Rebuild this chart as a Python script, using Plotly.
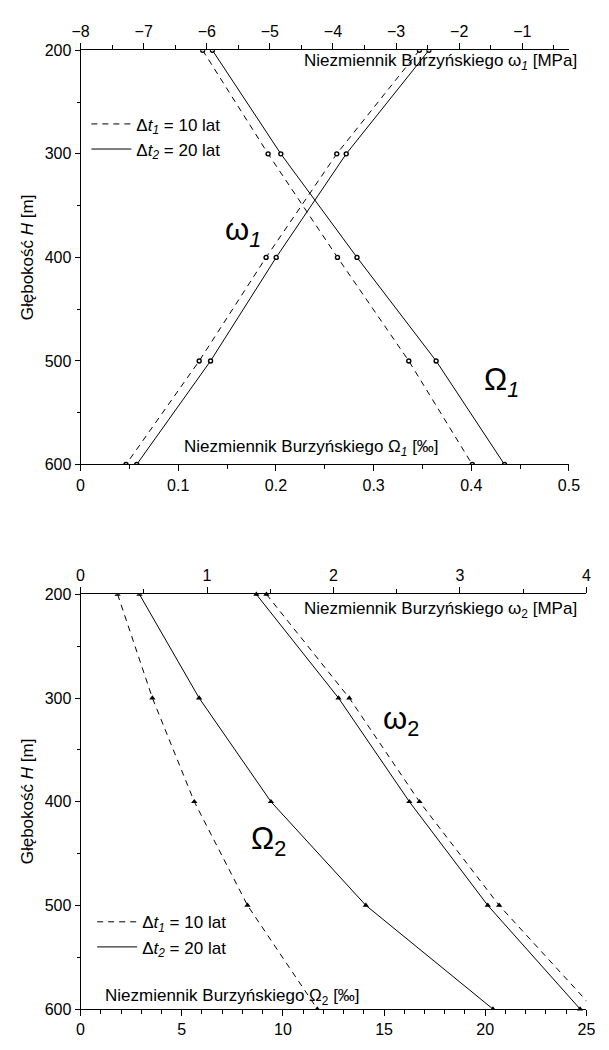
import plotly.graph_objects as go

# ---------------- data ----------------
depth = [200, 300, 400, 500, 600]

# top chart: omega1 [MPa] (top axis), Omega1 [permille] (bottom axis)
omega1_dt10 = [-2.63, -3.94, -5.06, -6.12, -7.28]
omega1_dt20 = [-2.48, -3.79, -4.90, -5.94, -7.11]
Omega1_dt10 = [0.125, 0.192, 0.263, 0.336, 0.401]
Omega1_dt20 = [0.135, 0.205, 0.283, 0.364, 0.434]

# bottom chart: omega2 [MPa] (top axis), Omega2 [permille] (bottom axis)
omega2_dt10 = [1.47, 2.125, 2.68, 3.31, 4.06]
omega2_dt20 = [1.39, 2.04, 2.60, 3.22, 3.95]
Omega2_dt10 = [1.83, 3.55, 5.62, 8.25, 11.70]
Omega2_dt20 = [2.91, 5.86, 9.41, 14.10, 20.38]

depth_ticks = [200, 300, 400, 500, 600]
legend_labels = ["Δ<i>t</i><sub><i>1</i></sub> = 10 lat", "Δ<i>t</i><sub><i>2</i></sub> = 20 lat"]

# ---------------- layout helpers ----------------
W, H = 609, 1050
FONT = "Arial, Liberation Sans, sans-serif"


def fx(p):
    return p / W


def fy(p):
    return 1 - p / H


DASH = "6px,5px"
LW = 1

fig = go.Figure()

circle = dict(symbol="circle", size=4, color="white", line=dict(color="black", width=1.4))
tri = dict(symbol="triangle-up", size=5.5, color="black", line=dict(width=0))

# top chart
fig.add_trace(go.Scatter(x=omega1_dt10, y=depth, xaxis="x2", yaxis="y", mode="lines+markers",
                         line=dict(color="black", width=LW, dash=DASH), marker=circle, showlegend=False))
fig.add_trace(go.Scatter(x=omega1_dt20, y=depth, xaxis="x2", yaxis="y", mode="lines+markers",
                         line=dict(color="black", width=LW), marker=circle, showlegend=False))
fig.add_trace(go.Scatter(x=Omega1_dt10, y=depth, xaxis="x", yaxis="y", mode="lines+markers",
                         line=dict(color="black", width=LW, dash=DASH), marker=circle, showlegend=False))
fig.add_trace(go.Scatter(x=Omega1_dt20, y=depth, xaxis="x", yaxis="y", mode="lines+markers",
                         line=dict(color="black", width=LW), marker=circle, showlegend=False))

# bottom chart
fig.add_trace(go.Scatter(x=Omega2_dt10, y=depth, xaxis="x3", yaxis="y2", mode="lines+markers",
                         line=dict(color="black", width=LW, dash=DASH), marker=tri, showlegend=False))
fig.add_trace(go.Scatter(x=Omega2_dt20, y=depth, xaxis="x3", yaxis="y2", mode="lines+markers",
                         line=dict(color="black", width=LW), marker=tri, showlegend=False))
fig.add_trace(go.Scatter(x=omega2_dt10, y=depth, xaxis="x4", yaxis="y2", mode="lines+markers",
                         line=dict(color="black", width=LW, dash=DASH), marker=tri, showlegend=False,
                         cliponaxis=False))
fig.add_trace(go.Scatter(x=omega2_dt20, y=depth, xaxis="x4", yaxis="y2", mode="lines+markers",
                         line=dict(color="black", width=LW), marker=tri, showlegend=False,
                         cliponaxis=False))

# legend entries
for lg, xa, ya in (("legend", "x", "y"), ("legend2", "x3", "y2")):
    fig.add_trace(go.Scatter(x=[None], y=[None], xaxis=xa, yaxis=ya, mode="lines", name=legend_labels[0],
                             line=dict(color="black", width=LW, dash=DASH), legend=lg))
    fig.add_trace(go.Scatter(x=[None], y=[None], xaxis=xa, yaxis=ya, mode="lines", name=legend_labels[1],
                             line=dict(color="black", width=LW), legend=lg))

tickfont = dict(family=FONT, size=16, color="black")
common = dict(showline=True, linecolor="black", linewidth=1, ticks="outside", tickcolor="black",
              tickwidth=1, showgrid=False, zeroline=False, tickfont=tickfont)

top_dom_x = [fx(74), fx(579)]
bot_dom_x = [fx(74), fx(597)]
top_dom_y = [fy(464), fy(43)]
bot_dom_y = [fy(1017.5), fy(596)]

fig.update_layout(
    width=W, height=H,
    margin=dict(l=0, r=0, t=0, b=0),
    paper_bgcolor="white", plot_bgcolor="white",
    font=dict(family=FONT, size=16, color="black"),
    xaxis=dict(domain=top_dom_x, anchor="y", range=[0, 0.5], tickmode="linear", tick0=0, dtick=0.1,
               ticklen=6, minor=dict(dtick=0.05, ticklen=4, ticks="outside", tickcolor="black"),
               **common),
    xaxis2=dict(domain=top_dom_x, anchor="y", overlaying="x", side="top", range=[-8, -0.26],
                tickmode="linear", tick0=-8, dtick=1, ticklen=6,
                minor=dict(dtick=0.5, ticklen=4, ticks="outside", tickcolor="black"), **common),
    yaxis=dict(domain=top_dom_y, anchor="x", range=[600, 200], tickmode="array", tickvals=depth_ticks,
               ticklen=5, minor=dict(dtick=50, ticklen=3, ticks="outside", tickcolor="black"), **common),
    xaxis3=dict(domain=bot_dom_x, anchor="y2", range=[0, 25], tickmode="linear", tick0=0, dtick=5,
                ticklen=6, minor=dict(dtick=1, ticklen=4, ticks="outside", tickcolor="black"), **common),
    xaxis4=dict(domain=bot_dom_x, anchor="y2", overlaying="x3", side="top", range=[0, 4],
                tickmode="linear", tick0=0, dtick=1, ticklen=6,
                minor=dict(dtick=0.5, ticklen=4, ticks="outside", tickcolor="black"), **common),
    yaxis2=dict(domain=bot_dom_y, anchor="x3", range=[600, 200], tickmode="array", tickvals=depth_ticks,
                ticklen=5, minor=dict(dtick=50, ticklen=3, ticks="outside", tickcolor="black"), **common),
    legend=dict(x=fx(80), y=fy(100), xanchor="left", yanchor="top", bgcolor="rgba(0,0,0,0)",
                font=dict(family=FONT, size=17, color="black"), itemwidth=40, tracegroupgap=0),
    legend2=dict(x=fx(86), y=fy(911), xanchor="left", yanchor="top", bgcolor="rgba(0,0,0,0)",
                 font=dict(family=FONT, size=17, color="black"), itemwidth=40, tracegroupgap=0),
)

ann = []


def add_text(text, x, y, size=17, xanchor="center", angle=0):
    ann.append(dict(text=text, x=fx(x), y=fy(y), xref="paper", yref="paper", showarrow=False,
                    xanchor=xanchor, yanchor="middle", textangle=angle,
                    font=dict(family=FONT, size=size, color="black")))


# axis titles
add_text("Niezmiennik Burzyńskiego ω<sub><i>1</i></sub> [MPa]", 303, 55, xanchor="left")
add_text("Niezmiennik Burzyńskiego Ω<sub><i>1</i></sub> [‰]", 179, 447, xanchor="left")
add_text("Niezmiennik Burzyńskiego ω<sub>2</sub> [MPa]", 303, 612, xanchor="left")
add_text("Niezmiennik Burzyńskiego Ω<sub>2</sub> [‰]", 97, 1005, xanchor="left")
add_text("Głębokość <i>H</i> [m]", 20, 253, angle=-90)
add_text("Głębokość <i>H</i> [m]", 20, 806, angle=-90)

# curve labels
add_text("ω<sub><i>1</i></sub>", 242, 228, size=31)
add_text("Ω<sub><i>1</i></sub>", 509, 380, size=31)
add_text("ω<sub>2</sub>", 405, 725, size=31)
add_text("Ω<sub>2</sub>", 268, 847, size=31)

fig.update_layout(annotations=ann)

fig.write_html("out.html", config={"displayModeBar": False},
               post_script="document.body.style.margin='0';document.body.style.padding='0';"
                           "document.body.style.overflow='hidden';")
